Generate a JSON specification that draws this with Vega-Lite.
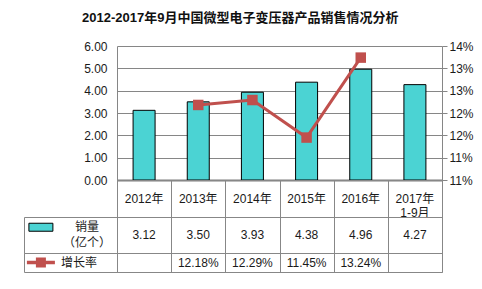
{
  "$schema": "https://vega.github.io/schema/vega-lite/v6.json",
  "padding": {"left": 23, "top": 12, "right": 8, "bottom": 16},
  "title": {"text": "2012-2017年9月中国微型电子变压器产品销售情况分析", "fontSize": 13, "fontWeight": "bold", "font": "Liberation Sans, Noto Sans CJK SC", "color": "#111111", "anchor": "middle", "offset": 15, "dx": -8},
  "data": {"values": [
    {"year": "2012年", "sales": 3.12, "growth": null},
    {"year": "2013年", "sales": 3.50, "growth": 0.1218},
    {"year": "2014年", "sales": 3.93, "growth": 0.1229},
    {"year": "2015年", "sales": 4.38, "growth": 0.1145},
    {"year": "2016年", "sales": 4.96, "growth": 0.1324},
    {"year": "2017年\n1-9月", "sales": 4.27, "growth": null}
  ]},
  "columns": 2,
  "spacing": 0,
  "bounds": "flush",
  "concat": [
    {"width": 93, "height": 134, "data": {"values": []}, "mark": "text"},
    {
      "width": 325, "height": 134,
      "encoding": {"x": {"field": "year", "type": "nominal", "sort": null,
        "scale": {"domain": ["2012年", "2013年", "2014年", "2015年", "2016年", "2017年\n1-9月"], "paddingInner": 0, "paddingOuter": 0},
        "axis": {"labels": false, "ticks": false, "title": null, "domain": true, "domainColor": "#7f7f7f", "domainWidth": 2, "grid": false}}},
      "layer": [
        {"mark": {"type": "bar", "size": 22, "fill": "#4BD3D3", "stroke": "#000000", "strokeWidth": 1},
         "encoding": {"y": {"field": "sales", "type": "quantitative", "scale": {"domain": [0, 6], "nice": false},
           "axis": {"values": [0, 1, 2, 3, 4, 5, 6], "format": ".2f", "title": null, "orient": "left", "grid": true, "gridColor": "#868686", "ticks": false, "domain": true, "domainColor": "#868686", "labelPadding": 10}}}},
        {"mark": {"type": "line", "color": "#C0504D", "strokeWidth": 3, "point": {"shape": "square", "size": 110, "filled": true, "color": "#C0504D"}},
         "encoding": {"y": {"field": "growth", "type": "quantitative", "scale": {"domain": [0.105, 0.135], "nice": false, "zero": false},
           "axis": {"orient": "right", "values": [0.105, 0.11, 0.115, 0.12, 0.125, 0.13, 0.135], "labelExpr": "round(datum.value*100+0.001) + '%'", "grid": false, "title": null, "ticks": true, "tickSize": 5, "tickColor": "#868686", "domain": true, "domainColor": "#868686", "labelPadding": 2}}}}
      ],
      "resolve": {"scale": {"y": "independent"}}
    },
    {"width": 93, "height": 37, "data": {"values": []}, "mark": "text"},
    {
      "width": 325, "height": 37,
      "view": {"stroke": "#878787"},
      "mark": {"type": "text", "lineBreak": "\n", "lineHeight": 14, "fontSize": 12},
      "encoding": {
        "x": {"field": "year", "type": "nominal", "sort": null,
          "scale": {"domain": ["2012年", "2013年", "2014年", "2015年", "2016年", "2017年\n1-9月"], "paddingInner": 0, "paddingOuter": 0},
          "axis": {"labels": false, "ticks": false, "domain": false, "grid": true, "gridColor": "#878787", "tickBand": "extent", "title": null}},
        "text": {"field": "year"}
      }
    },
    {
      "width": 93, "height": 36,
      "view": {"stroke": "#878787"},
      "data": {"values": [{}]},
      "layer": [
        {"mark": {"type": "point", "shape": "M-1,-0.333H1V0.333H-1Z", "size": 576, "filled": true, "fill": "#4BD3D3", "stroke": "#000000", "strokeWidth": 1, "opacity": 1},
         "encoding": {
           "x": {"datum": "s", "type": "nominal", "scale": {"type": "point", "domain": ["s", "t"], "padding": 0.51, "align": 0.36}, "axis": null},
           "y": {"datum": "l1", "type": "nominal", "scale": {"type": "point", "domain": ["l1", "l2"], "padding": 0.66}, "axis": null}}},
        {"mark": {"type": "text", "fontSize": 12},
         "encoding": {
           "x": {"datum": "t", "type": "nominal", "axis": null},
           "y": {"datum": "l1", "type": "nominal", "axis": null},
           "text": {"value": "销量"}}},
        {"mark": {"type": "text", "fontSize": 12},
         "encoding": {
           "x": {"datum": "t", "type": "nominal", "axis": null},
           "y": {"datum": "l2", "type": "nominal", "axis": null},
           "text": {"value": "（亿个）"}}}
      ]
    },
    {
      "width": 325, "height": 36,
      "view": {"stroke": "#878787"},
      "mark": {"type": "text", "fontSize": 12},
      "encoding": {
        "x": {"field": "year", "type": "nominal", "sort": null,
          "scale": {"domain": ["2012年", "2013年", "2014年", "2015年", "2016年", "2017年\n1-9月"], "paddingInner": 0, "paddingOuter": 0},
          "axis": {"labels": false, "ticks": false, "domain": false, "grid": true, "gridColor": "#878787", "tickBand": "extent", "title": null}},
        "text": {"field": "sales", "type": "quantitative", "format": ".2f"}
      }
    },
    {
      "width": 93, "height": 19,
      "view": {"stroke": "#878787"},
      "data": {"values": [{}]},
      "layer": [
        {"mark": {"type": "point", "shape": "M-1,-0.125H1V0.125H-1ZM-0.357,-0.357H0.357V0.357H-0.357Z", "size": 784, "filled": true, "fill": "#C0504D", "strokeWidth": 0, "opacity": 1},
         "encoding": {
           "x": {"datum": "s", "type": "nominal", "scale": {"type": "point", "domain": ["s", "t"], "padding": 0.51, "align": 0.36}, "axis": null}}},
        {"mark": {"type": "text", "fontSize": 12, "align": "left", "dx": -26},
         "encoding": {
           "x": {"datum": "t", "type": "nominal", "axis": null},
           "text": {"value": "增长率"}}}
      ]
    },
    {
      "width": 325, "height": 19,
      "view": {"stroke": "#878787"},
      "transform": [{"filter": "datum.growth != null"}],
      "mark": {"type": "text", "fontSize": 12},
      "encoding": {
        "x": {"field": "year", "type": "nominal", "sort": null,
          "scale": {"domain": ["2012年", "2013年", "2014年", "2015年", "2016年", "2017年\n1-9月"], "paddingInner": 0, "paddingOuter": 0},
          "axis": {"labels": false, "ticks": false, "domain": false, "grid": true, "gridColor": "#878787", "tickBand": "extent", "title": null}},
        "text": {"field": "growth", "type": "quantitative", "format": ".2%"}
      }
    }
  ],
  "config": {
    "view": {"stroke": null},
    "font": "Liberation Sans, Noto Sans CJK SC",
    "text": {"fontSize": 12, "color": "#1a1a1a", "font": "Liberation Sans, Noto Sans CJK SC"},
    "axis": {"labelFont": "Liberation Sans, Noto Sans CJK SC", "labelFontSize": 12, "labelColor": "#1a1a1a"}
  }
}
